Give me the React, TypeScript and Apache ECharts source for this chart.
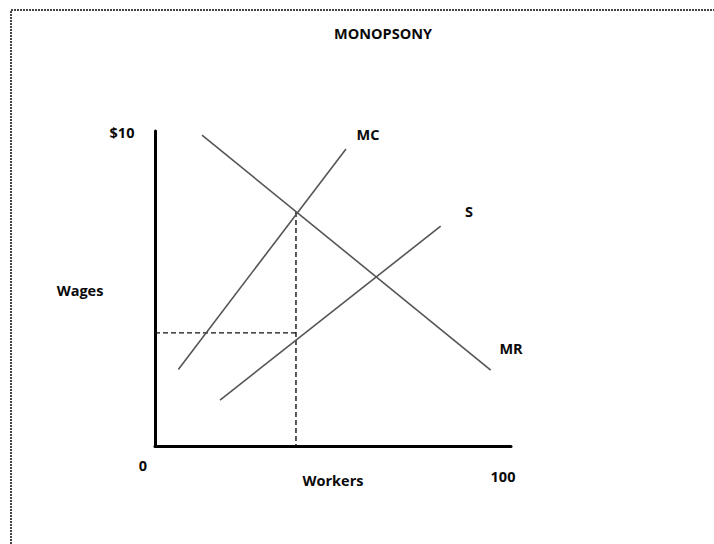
import React, { useEffect, useRef } from "react";
import * as echarts from "echarts";

// Curves: [workers, wage]
const mrLine: number[][] = [[13.2, 9.87], [94.3, 2.41]];
const mcLine: number[][] = [[6.55, 2.43], [53.65, 9.43]];
const sLine: number[][] = [[18.26, 1.46], [80.25, 6.98]];
const dashVertical: number[][] = [[39.6, 7.43], [39.6, 0]];
const dashHorizontal: number[][] = [[0, 3.59], [39.6, 3.59]];

const xMin = 0;
const xMax = 100;
const yMin = 0;
const yMax = 10;

const titleText = "MONOPSONY";
const yTopLabel = "$10";
const yName = "Wages";
const xName = "Workers";
const xMinLabel = "0";
const xMaxLabel = "100";
const curveNames = ["MR", "MC", "S"];

export default function App() {
  const ref = useRef<HTMLDivElement>(null);
  useEffect(() => {
    if (!ref.current) return;
    const chart = echarts.init(ref.current, null, { renderer: "svg" });
    const font = "'Open Sans', sans-serif";
    const txt = (text: string, x: number, y: number, align: string = "center") => ({
      type: "text",
      x,
      y,
      style: {
        text,
        fill: "#0a0a0a",
        font: `bold 14.5px ${font}`,
        textAlign: align,
        textVerticalAlign: "middle",
      },
    });
    const curve = (name: string, data: number[][]) => ({
      name,
      type: "line",
      data,
      symbol: "none",
      lineStyle: { color: "#555", width: 1.6 },
      silent: true,
    });
    const dash = (data: number[][]) => ({
      type: "line",
      data,
      symbol: "none",
      lineStyle: { color: "#111", width: 1.4, type: [5, 3] },
      silent: true,
      z: 1,
    });
    chart.setOption({
      animation: false,
      grid: { left: 155, top: 131, width: 356, height: 315 },
      xAxis: {
        type: "value",
        min: xMin,
        max: xMax,
        axisLine: { show: true, onZero: false, lineStyle: { color: "#000", width: 3 } },
        axisTick: { show: false },
        axisLabel: { show: false },
        splitLine: { show: false },
      },
      yAxis: {
        type: "value",
        min: yMin,
        max: yMax,
        axisLine: { show: true, onZero: false, lineStyle: { color: "#000", width: 3 } },
        axisTick: { show: false },
        axisLabel: { show: false },
        splitLine: { show: false },
      },
      series: [
        curve(curveNames[0], mrLine),
        curve(curveNames[1], mcLine),
        curve(curveNames[2], sLine),
        dash(dashVertical),
        dash(dashHorizontal),
      ],
      graphic: [
        {
          type: "rect",
          shape: { x: 11, y: 10, width: 740, height: 580 },
          style: { fill: "none", stroke: "#444", lineWidth: 2, lineDash: [2, 1] },
          silent: true,
        },
        txt(titleText, 383, 33),
        txt(yTopLabel, 122, 132),
        txt(yName, 80, 290),
        txt(xMinLabel, 143, 465),
        txt(xName, 333, 480),
        txt(xMaxLabel, 503, 476),
        txt(curveNames[1], 368, 134),
        txt(curveNames[2], 469, 211),
        txt(curveNames[0], 511, 348),
      ],
    });
    return () => chart.dispose();
  }, []);
  return (
    <div
      ref={ref}
      style={{ position: "absolute", left: 0, top: 0, width: 714, height: 544, background: "#fff" }}
    />
  );
}
